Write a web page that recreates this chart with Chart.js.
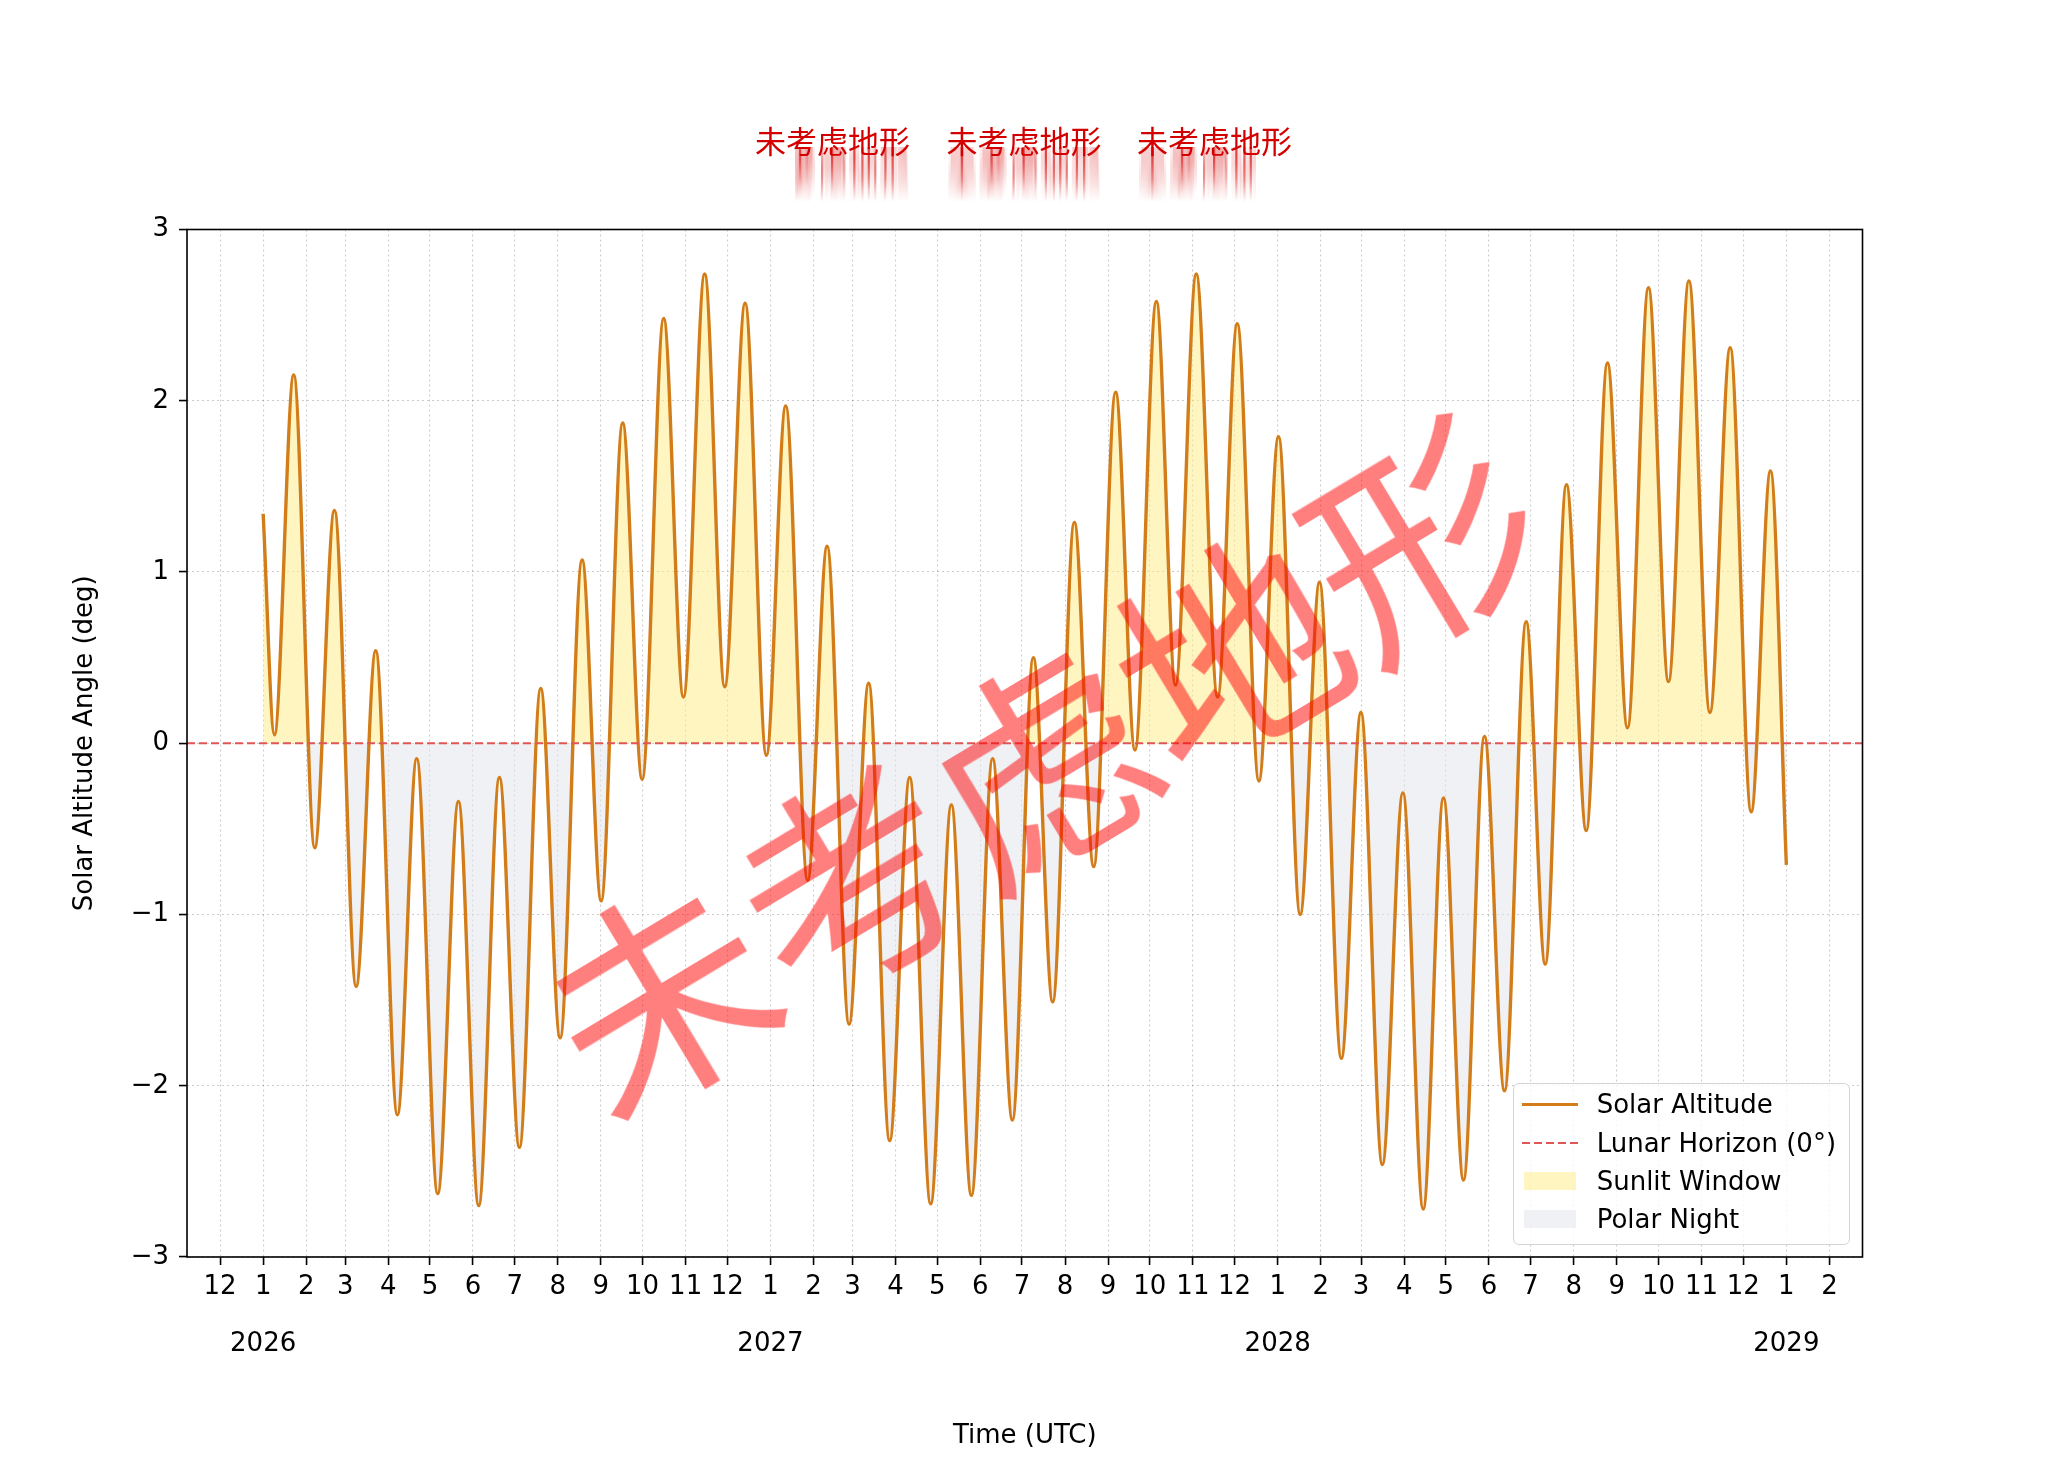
<!DOCTYPE html>
<html>
<head>
<meta charset="utf-8">
<script src="https://cdn.jsdelivr.net/npm/chart.js"></script>
<style>
html,body{margin:0;padding:0;background:#fff;overflow:hidden;}
#wrap{position:relative;width:2047px;height:1484px;background:#fff;}
#c{position:absolute;left:0;top:0;}
.ttl{position:absolute;top:124px;font-family:'Noto Sans CJK SC';font-size:31px;line-height:31px;color:#d40000;white-space:nowrap;}
#streaks{position:absolute;left:795px;top:147px;width:461px;height:55px;overflow:hidden;
  -webkit-mask-image:linear-gradient(to bottom,rgba(0,0,0,0.9),rgba(0,0,0,0.45) 60%,rgba(0,0,0,0));
  mask-image:linear-gradient(to bottom,rgba(0,0,0,0.9),rgba(0,0,0,0.45) 60%,rgba(0,0,0,0));}
.smear{position:absolute;top:-23px;font-family:'Noto Sans CJK SC';font-size:31px;line-height:31px;color:#d40000;white-space:nowrap;transform:scaleY(3.5);transform-origin:50% 0;filter:url(#vblur);}
#wm{position:absolute;left:1034px;top:757px;transform:translate(-50%,-50%) rotate(-31deg);font-family:'Noto Sans CJK SC';font-size:222px;line-height:1;color:rgba(255,0,0,0.5);white-space:nowrap;}
#legend{position:absolute;left:1512.7px;top:1083.3px;width:337px;height:162px;box-sizing:border-box;border:1.3px solid #d4d4d4;border-radius:6px;background:rgba(255,255,255,0.8);}
.lg-row{position:absolute;left:0;height:0;}
.lg-text{position:absolute;left:83px;top:-16px;font-family:'DejaVu Sans';font-size:26px;line-height:32px;color:#000;white-space:nowrap;}
.lg-h{position:absolute;}
</style>
</head>
<body>
<svg width="0" height="0" style="position:absolute">
  <filter id="vblur" x="-10%" y="-50%" width="120%" height="200%"><feGaussianBlur stdDeviation="0 4"/></filter>
</svg>
<div id="wrap">
  <canvas id="c" width="2047" height="1484"></canvas>
  <div id="streaks"></div>
  <div id="titles"></div>
  <div id="wm"></div>
  <div id="legend"></div>
</div>
<script>
// ---------------- data ----------------
const startDate = '2026-01-01';
// days after startDate of the start point, each local peak/trough, and the end point
const dayOffsets = [
  0, 8.1, 22.0, 37.1, 51.3, 66.9, 81.0, 96.6, 110.5, 125.6,
  140.5, 155.1, 170.0, 184.4, 199.7, 213.7, 229.5, 243.2, 258.7, 272.7,
  288.2, 302.4, 317.7, 332.1, 346.8, 362.1, 376.0, 391.8, 405.8, 421.6,
  435.7, 450.8, 465.2, 480.3, 495.2, 509.6, 524.9, 539.1, 554.2, 568.1,
  583.7, 597.6, 613.4, 627.3, 642.7, 656.5, 671.4, 686.8, 700.9, 716.5,
  730.6, 746.2, 760.1, 775.8, 789.9, 805.3, 820.1, 834.7, 849.3, 863.7,
  878.8, 893.2, 908.8, 922.5, 937.8, 952.0, 967.3, 981.7, 996.8, 1011.2,
  1025.9, 1041.0, 1055.6, 1070.7, 1084.6, 1096
];
// solar altitude angle (deg)
const altitudeDeg = [
  1.34, 0.05, 2.15, -0.61, 1.36, -1.42, 0.54, -2.17, -0.09, -2.63,
  -0.34, -2.70, -0.20, -2.36, 0.32, -1.72, 1.07, -0.92, 1.87, -0.21,
  2.48, 0.27, 2.74, 0.33, 2.57, -0.07, 1.97, -0.80, 1.15, -1.64,
  0.35, -2.32, -0.20, -2.69, -0.36, -2.64, -0.09, -2.20, 0.50, -1.51,
  1.29, -0.72, 2.05, -0.04, 2.58, 0.34, 2.74, 0.27, 2.45, -0.22,
  1.79, -1.00, 0.94, -1.84, 0.18, -2.46, -0.29, -2.72, -0.32, -2.55,
  0.04, -2.03, 0.71, -1.29, 1.51, -0.51, 2.22, 0.09, 2.66, 0.36,
  2.70, 0.18, 2.31, -0.40, 1.59, -0.71
];
const horizonLevel = 0;
const seriesLabels = ['Solar Altitude', 'Lunar Horizon (0°)', 'Sunlit Window', 'Polar Night'];
const yTickValues = [-3, -2, -1, 0, 1, 2, 3];
const yearLabels = ['2026', '2027', '2028', '2029'];
const tickFirstMonth = '2025-12';
const tickLastMonth = '2029-02';
const titleText = ['未考虑地形', '未考虑地形', '未考虑地形'];
const watermarkText = '未考虑地形';
const xAxisTitle = 'Time (UTC)';
const yAxisTitle = 'Solar Altitude Angle (deg)';

// ---------------- styles ----------------
const LINE_COLOR = '#d27d1a';
const SUN_FILL = 'rgba(255,236,140,0.55)';
const NIGHT_FILL = 'rgba(226,229,235,0.55)';
const HORIZON_COLOR = '#e05656';
const FONT = 'DejaVu Sans';

// ---------------- helpers ----------------
const DAY = 86400000;
const t0 = Date.parse(startDate + 'T00:00:00Z');
const dataSpan = dayOffsets[dayOffsets.length - 1] - dayOffsets[0];
const X_MIN = dayOffsets[0] - 0.05 * dataSpan;
const X_MAX = dayOffsets[dayOffsets.length - 1] + 0.05 * dataSpan;

const monthTicks = [];
(function () {
  let [y, m] = tickFirstMonth.split('-').map(Number);
  const [ly, lm] = tickLastMonth.split('-').map(Number);
  while (y < ly || (y === ly && m <= lm)) {
    const d = (Date.UTC(y, m - 1, 1) - t0) / DAY;
    let label = String(m);
    if (m === 1 && yearLabels.includes(String(y))) label = [String(m), '', String(y)];
    monthTicks.push({ value: d, label });
    m++; if (m > 12) { m = 1; y++; }
  }
})();
const tickLabelByValue = new Map(monthTicks.map(t => [t.value, t.label]));

// ---------------- HTML text ----------------
const titleLefts = [755, 946.5, 1137];
const titlesEl = document.getElementById('titles');
const streakEl = document.getElementById('streaks');
titleText.forEach((t, i) => {
  const s = document.createElement('div');
  s.className = 'ttl'; s.textContent = t; s.style.left = titleLefts[i] + 'px';
  titlesEl.appendChild(s);
  const m = document.createElement('div');
  m.className = 'smear'; m.textContent = t; m.style.left = (titleLefts[i] - 795) + 'px';
  streakEl.appendChild(m);
});
document.getElementById('wm').textContent = watermarkText;

const legendEl = document.getElementById('legend');
const rowCenters = [20, 58.3, 96.6, 134.9];
const handles = [
  `left:8px;top:-1.7px;width:56px;height:3.4px;background:${LINE_COLOR};`,
  `left:8px;top:-1px;width:56px;height:2px;background:repeating-linear-gradient(to right,${HORIZON_COLOR} 0 8px,transparent 8px 12px);`,
  `left:10px;top:-8.8px;width:52.6px;height:17.6px;background:${SUN_FILL};`,
  `left:10px;top:-8.8px;width:52.6px;height:17.6px;background:${NIGHT_FILL};`
];
seriesLabels.forEach((lab, i) => {
  const r = document.createElement('div');
  r.className = 'lg-row'; r.style.top = rowCenters[i] + 'px';
  r.innerHTML = `<div class="lg-h" style="${handles[i]}"></div><div class="lg-text"></div>`;
  r.querySelector('.lg-text').textContent = lab;
  legendEl.appendChild(r);
});

// ---------------- chart ----------------
const framePlugin = {
  id: 'frame',
  afterDatasetsDraw(chart) {
    const { ctx, chartArea: a } = chart;
    ctx.save();
    ctx.strokeStyle = '#000';
    ctx.lineWidth = 1.6;
    ctx.strokeRect(a.left, a.top, a.right - a.left, a.bottom - a.top);
    ctx.restore();
  }
};

const altitudePoints = dayOffsets.map((d, i) => ({ x: d, y: altitudeDeg[i] }));
const horizonPoints = [{ x: X_MIN, y: horizonLevel }, { x: X_MAX, y: horizonLevel }];

new Chart(document.getElementById('c').getContext('2d'), {
  type: 'line',
  data: {
    datasets: [
      {
        label: seriesLabels[1], data: horizonPoints,
        borderColor: HORIZON_COLOR, borderWidth: 2, borderDash: [8, 4],
        pointRadius: 0, fill: false, order: 0
      },
      {
        label: seriesLabels[0], data: altitudePoints,
        borderColor: LINE_COLOR, borderWidth: 3.4, pointRadius: 0,
        cubicInterpolationMode: 'monotone', tension: 0.4,
        fill: { target: { value: horizonLevel }, above: SUN_FILL, below: NIGHT_FILL },
        order: 1
      }
    ]
  },
  options: {
    responsive: false, animation: false, devicePixelRatio: 1,
    layout: { padding: { top: 229.5, right: 184.5, left: 0, bottom: 0 } },
    plugins: { legend: { display: false }, tooltip: { enabled: false }, title: { display: false } },
    scales: {
      x: {
        type: 'linear', position: 'bottom', min: X_MIN, max: X_MAX, bounds: 'data',
        afterFit(s) { s.height = 227; },
        afterBuildTicks(s) { s.ticks = monthTicks.map(t => ({ value: t.value })); },
        ticks: {
          autoSkip: false, maxRotation: 0, minRotation: 0, padding: 7.5, color: '#000',
          font: { family: FONT, size: 26, lineHeight: 1.104 },
          callback: (v) => tickLabelByValue.get(v) ?? ''
        },
        grid: { color: 'rgba(0,0,0,0.2)', lineWidth: 1.1, drawTicks: true, tickLength: 8, tickColor: '#000', tickWidth: 1.6 },
        border: { display: false, dash: [2, 3] },
        title: { display: true, text: xAxisTitle, color: '#000', font: { family: FONT, size: 26 }, padding: { top: 0, bottom: 32 } }
      },
      y: {
        type: 'linear', min: -3, max: 3,
        afterFit(s) { s.width = 187; },
        afterBuildTicks(s) { s.ticks = yTickValues.map(v => ({ value: v })); },
        ticks: {
          padding: 10, color: '#000', font: { family: FONT, size: 26 },
          callback: (v) => (v < 0 ? '\u2212' + Math.abs(v) : String(v))
        },
        grid: { color: 'rgba(0,0,0,0.2)', lineWidth: 1.1, drawTicks: true, tickLength: 8, tickColor: '#000', tickWidth: 1.6 },
        border: { display: false, dash: [2, 3] },
        title: { display: true, text: yAxisTitle, color: '#000', font: { family: FONT, size: 26 }, padding: { top: 70, bottom: 0 } }
      }
    }
  },
  plugins: [framePlugin]
});
</script>
</body>
</html>
